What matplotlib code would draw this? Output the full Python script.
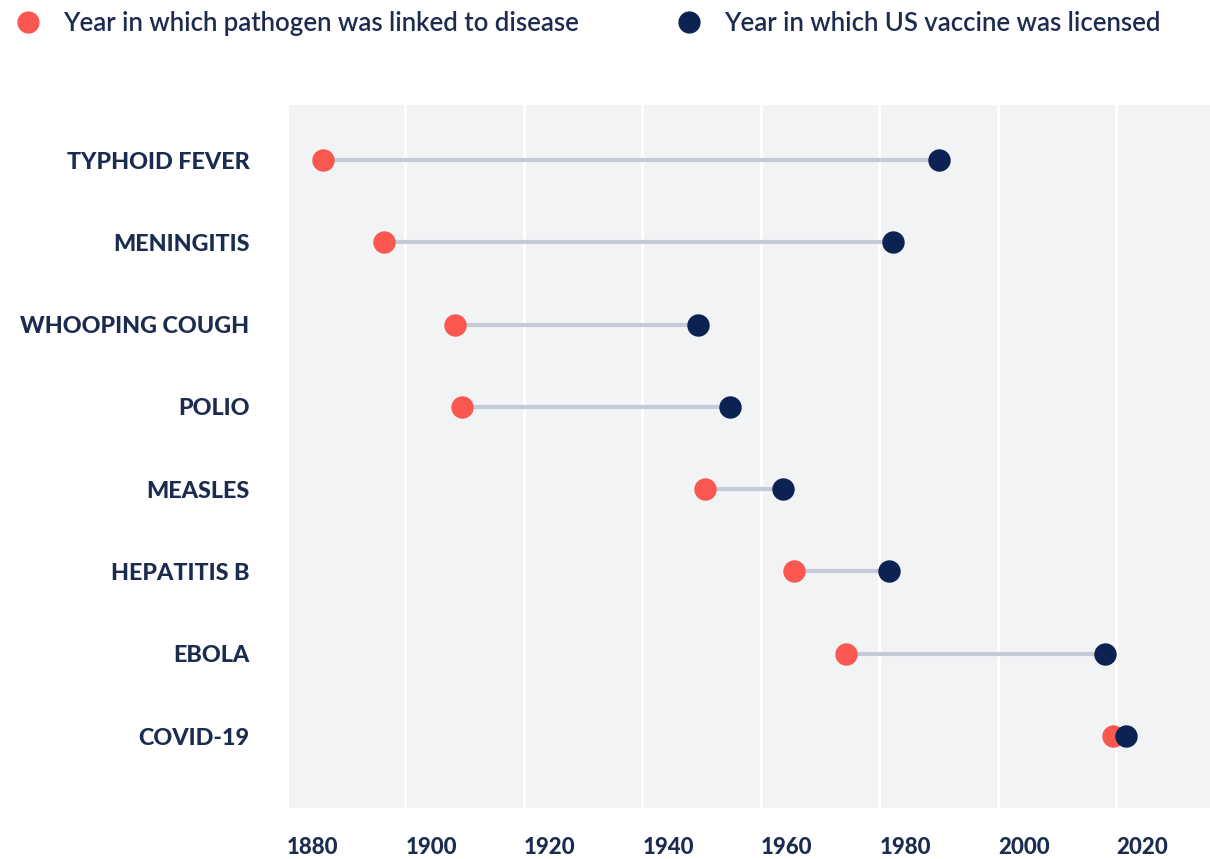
import numpy as np
import matplotlib
matplotlib.use("Agg")
import matplotlib.pyplot as plt
from matplotlib.lines import Line2D

plt.rcParams["font.family"] = ["Lato", "DejaVu Sans"]

# Data
diseases = ["TYPHOID FEVER", "MENINGITIS", "WHOOPING COUGH", "POLIO",
            "MEASLES", "HEPATITIS B", "EBOLA", "COVID-19"]
year_linked = [1886, 1896.4, 1908.4, 1909.5, 1950.5, 1965.6, 1974.3, 2019.4]
year_vaccine = [1990, 1982.3, 1949.4, 1954.8, 1963.8, 1981.6, 2018.0, 2021.6]
xticks = [1880, 1900, 1920, 1940, 1960, 1980, 2000, 2020]

RED = "#F9574F"
NAVY = "#0B2252"
TEXT = "#1C2C50"
LINE = "#C4CBD6"
BG = "#F2F3F5"

fig = plt.figure(figsize=(12.1, 8.59), dpi=100)
ax = fig.add_axes([287 / 1210, 1 - 808 / 859, 923 / 1210, 703 / 859])
ax.set_facecolor(BG)

y = np.arange(len(diseases))

# connecting lines
ax.hlines(y, year_linked, year_vaccine, color=LINE, linewidth=3, zorder=2)
ax.scatter(year_linked, y, s=260, color=RED, zorder=3, linewidths=0)
ax.scatter(year_vaccine, y, s=260, color=NAVY, zorder=4, linewidths=0)

ax.set_xlim(1880, 2035.8)
ax.set_ylim(len(diseases) - 1 + 0.875, -0.67)

# white vertical grid
ax.set_xticks(xticks)
ax.grid(axis="x", color="white", linewidth=2.2, zorder=1)
ax.set_axisbelow(True)

ax.set_xticklabels([str(t) for t in xticks], ha="left", fontsize=16,
                   fontweight="black", color=TEXT)
ax.tick_params(axis="x", length=0, pad=21)

ax.set_yticks(y)
ax.set_yticklabels(diseases, fontsize=16.8, fontweight="black", color=TEXT)
ax.tick_params(axis="y", length=0, pad=27)

for spine in ax.spines.values():
    spine.set_visible(False)

# legend along the top
handles = [
    Line2D([0], [0], marker="o", linestyle="", markersize=15, color=RED,
           label="Year in which pathogen was linked to disease"),
    Line2D([0], [0], marker="o", linestyle="", markersize=15, color=NAVY,
           label="Year in which US vaccine was licensed"),
]
leg = fig.legend(handles=handles, loc="upper left", bbox_to_anchor=(-0.017, 1.014),
                 ncol=2, frameon=False, prop={"size": 18.5, "weight": "semibold"},
                 handletextpad=0.35, columnspacing=3.3, labelcolor=TEXT)

fig.savefig("out.png", dpi=100, facecolor="white")
